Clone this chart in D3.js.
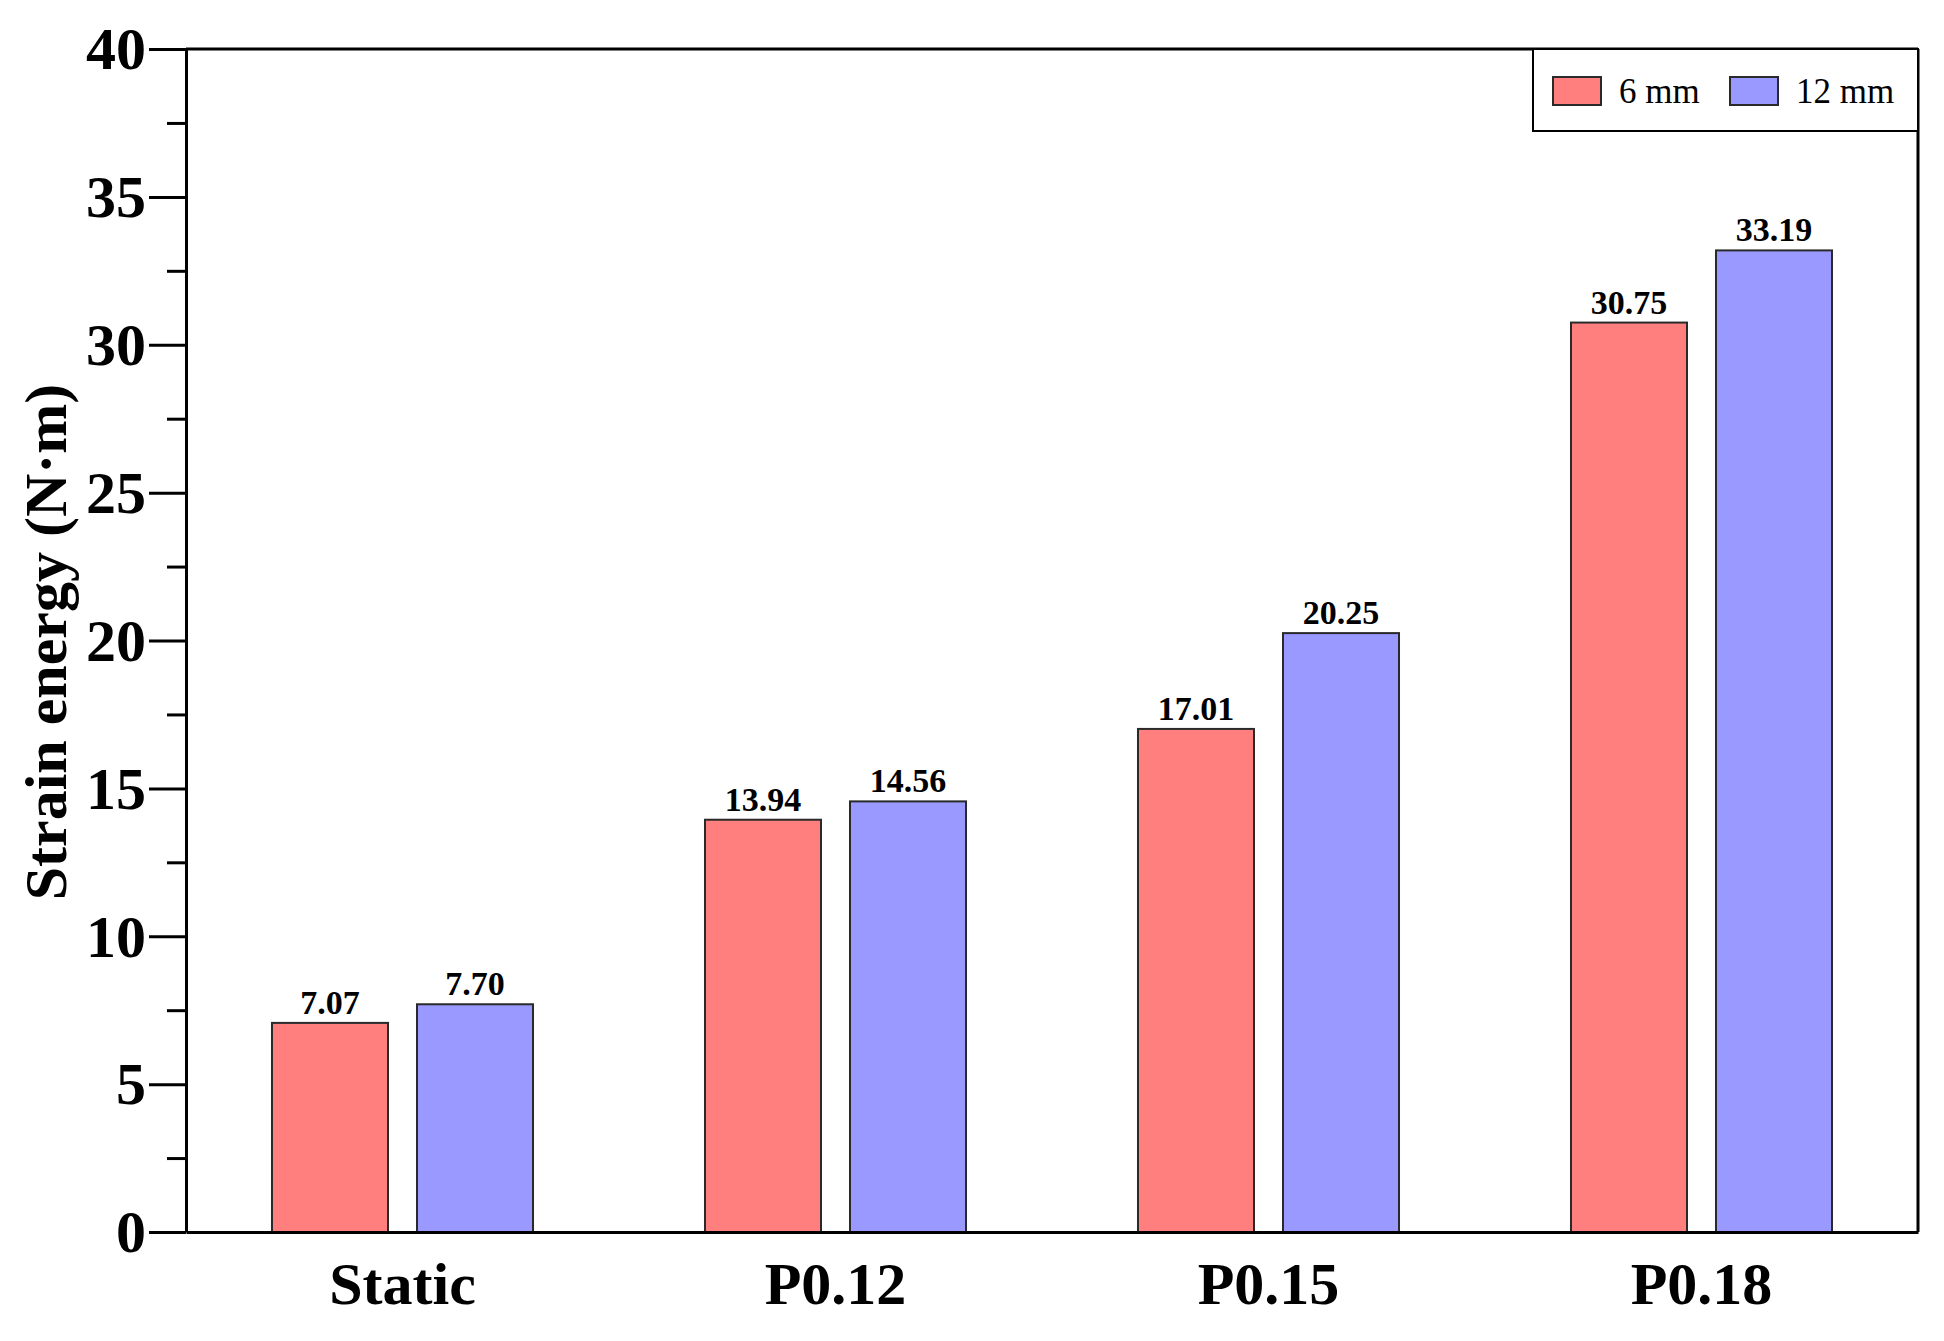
<!DOCTYPE html>
<html lang="en">
<head>
    <meta charset="UTF-8">
    <title>Strain energy</title>
    <style>
        body { margin: 0; background: #fff; }
        text { font-family: "Liberation Serif", "Times New Roman", serif; }
        .axis path, .axis line { fill: none; stroke: #000; stroke-width: 3px; }
        .bar { stroke: #2a2a2a; stroke-width: 2px; }
    </style>
    <script src="https://d3js.org/d3.v7.min.js"></script>
</head>
<body>
    <svg width="1944" height="1341"></svg>

    <script>
        // Data
        const categories = ["Static", "P0.12", "P0.15", "P0.18"];
        const seriesNames = ["6 mm", "12 mm"];
        const values6mm = [7.07, 13.94, 17.01, 30.75];
        const values12mm = [7.70, 14.56, 20.25, 33.19];
        const seriesColors = ["#FF7F7F", "#9999FF"];
        const majorTicks = [0, 5, 10, 15, 20, 25, 30, 35, 40];

        const serif = "'Liberation Serif', 'Times New Roman', serif";

        const margin = {top: 49, right: 26, bottom: 109, left: 186},
            width = 1944 - margin.left - margin.right,
            height = 1341 - margin.top - margin.bottom;

        const svg = d3.select("svg")
          .append("g")
            .attr("transform", "translate(" + margin.left + "," + margin.top + ")");

        const x = d3.scaleBand().domain(categories).range([0, width]);
        const xSub = d3.scaleBand().domain(seriesNames)
            .range([0, x.bandwidth()])
            .paddingInner(0.2)
            .paddingOuter(0.593);
        const y = d3.scaleLinear().domain([0, 40]).range([height, 0]);

        const color = d3.scaleOrdinal().domain(seriesNames).range(seriesColors);

        // build rows for the grouped bars
        const rows = [];
        categories.forEach((c, i) => {
            rows.push({cat: c, series: seriesNames[0], value: values6mm[i]});
            rows.push({cat: c, series: seriesNames[1], value: values12mm[i]});
        });

        // frame: top and right
        svg.append("line")
            .attr("x1", 0).attr("x2", width).attr("y1", 0).attr("y2", 0)
            .attr("stroke", "#000").attr("stroke-width", 3);
        svg.append("line")
            .attr("x1", width).attr("x2", width).attr("y1", 0).attr("y2", height)
            .attr("stroke", "#000").attr("stroke-width", 3);

        // bars
        svg.selectAll(".bar")
            .data(rows)
          .enter().append("rect")
            .attr("class", "bar")
            .attr("x", d => x(d.cat) + xSub(d.series))
            .attr("y", d => y(d.value))
            .attr("width", xSub.bandwidth())
            .attr("height", d => height - y(d.value))
            .attr("fill", d => color(d.series));

        // value labels
        svg.selectAll(".val")
            .data(rows)
          .enter().append("text")
            .attr("class", "val")
            .attr("x", d => x(d.cat) + xSub(d.series) + xSub.bandwidth() / 2)
            .attr("y", d => y(d.value) - 9)
            .attr("text-anchor", "middle")
            .attr("font-family", serif)
            .attr("font-size", "34px")
            .attr("font-weight", "bold")
            .text(d => d.value.toFixed(2));

        // Y axis minor ticks
        svg.append("g")
            .attr("class", "axis")
            .call(d3.axisLeft(y).tickValues(d3.range(2.5, 40, 5)).tickSize(19).tickFormat(""))
            .call(g => g.select(".domain").remove());

        // Y axis major
        const yAxis = svg.append("g")
            .attr("class", "axis")
            .attr("font-family", serif)
            .call(d3.axisLeft(y).tickValues(majorTicks).tickSize(37).tickSizeOuter(0).tickPadding(3));
        yAxis.selectAll("text")
            .attr("font-family", serif)
            .attr("font-size", "60px")
            .attr("font-weight", "bold")
            .attr("fill", "#000")
            .attr("dy", "0.33em");

        // X axis
        const xAxis = svg.append("g")
            .attr("class", "axis")
            .attr("font-family", serif)
            .attr("transform", "translate(0," + height + ")")
            .call(d3.axisBottom(x).tickSize(0).tickSizeOuter(0).tickPadding(0));
        xAxis.selectAll("text")
            .attr("font-family", serif)
            .attr("font-size", "60px")
            .attr("font-weight", "bold")
            .attr("fill", "#000")
            .attr("dy", null)
            .attr("y", 72);

        // Y axis title
        svg.append("text")
            .attr("transform", "translate(" + (66 - margin.left) + "," + (642 - margin.top) + ") rotate(-90)")
            .attr("text-anchor", "middle")
            .attr("font-family", serif)
            .attr("font-size", "60px")
            .attr("font-weight", "bold")
            .text("Strain energy (N\u00b7m)");

        // Legend
        const legend = svg.append("g")
            .attr("transform", "translate(" + (1533 - margin.left) + ",0)");
        legend.append("rect")
            .attr("width", 1918 - 1533).attr("height", 82)
            .attr("fill", "#fff").attr("stroke", "#000").attr("stroke-width", 2);
        const legendX = [20, 197];
        seriesNames.forEach((s, i) => {
            legend.append("rect")
                .attr("x", legendX[i]).attr("y", 28)
                .attr("width", 48).attr("height", 28)
                .attr("fill", color(s)).attr("stroke", "#2a2a2a").attr("stroke-width", 2);
            legend.append("text")
                .attr("x", legendX[i] + 66).attr("y", 54)
                .attr("font-family", serif)
                .attr("font-size", "35px")
                .text(s);
        });
    </script>
</body>
</html>
